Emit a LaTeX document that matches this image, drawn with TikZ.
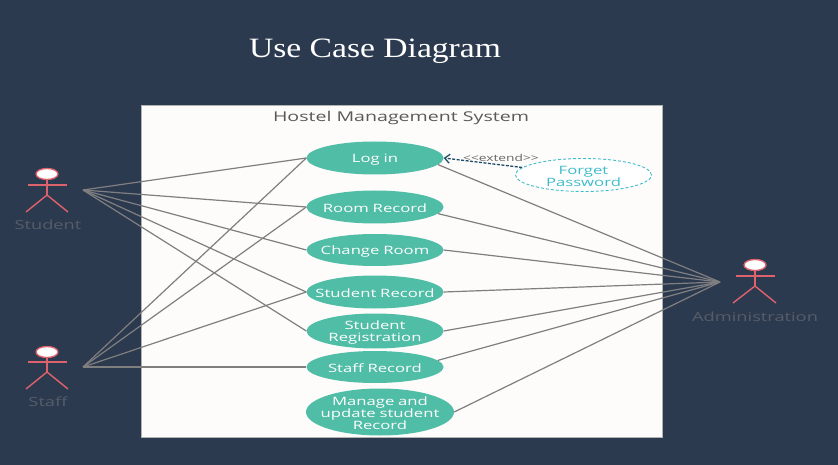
\documentclass[tikz,border=0pt]{standalone}
\usepackage{fontspec}
\setmainfont{Open Sans}[FakeStretch=1.45]
\newfontfamily\titlefont{Liberation Serif}[FakeStretch=1.2]
\usetikzlibrary{arrows.meta, shapes.geometric}
\definecolor{bgcol}{HTML}{2C3A50}
\definecolor{tealcol}{HTML}{50BDA6}
\definecolor{redcol}{HTML}{DE626B}
\definecolor{linecol}{HTML}{7F7F7F}
\definecolor{actorcol}{HTML}{565D68}
\definecolor{forgetcol}{HTML}{3FBCCB}
\definecolor{panelcol}{HTML}{FDFCFB}
\definecolor{extendcol}{HTML}{1F4E6A}
\tikzset{
  oval/.style={ellipse, text width=124pt, align=center, inner xsep=-25pt, inner ysep=-3pt, font=\fontsize{11.5}{12}\selectfont, execute at begin node={\vskip -1pt}},
  usecase/.style={oval, fill=tealcol, text=white},
  assoc/.style={draw=linecol, line width=1.2pt},
  head/.style={ellipse, draw=redcol, fill=white, line width=1.3pt, minimum width=22pt, minimum height=11pt, inner sep=0pt},
  limb/.style={draw=redcol, line width=1.4pt},
  actorlabel/.style={text=actorcol, font=\fontsize{12.6}{14}\selectfont}
}
\begin{document}
\begin{tikzpicture}[x=1pt, y=-1pt]
    \useasboundingbox[fill=bgcol] (0,0) rectangle (838,465);

    \node[text=white, font=\titlefont\fontsize{28}{32}\selectfont] (title) at (375,51) {Use Case Diagram};

    \node[draw=gray!60, fill=panelcol, minimum width=521pt, minimum height=332pt, inner sep=0pt] (system) at (401.5,271) {};
    \node[text=black!65, font=\fontsize{13.5}{15}\selectfont] (systitle) at (401,118) {Hostel Management System};

    \node[usecase, minimum width=137pt, minimum height=33pt] (login) at (375,158) {Log in};
    \node[usecase, minimum width=137pt, minimum height=33pt] (room) at (375,207) {Room Record};
    \node[usecase, minimum width=137pt, minimum height=32pt] (change) at (375,250) {Change Room};
    \node[usecase, minimum width=137pt, minimum height=33pt] (record) at (375,292) {Student Record};
    \node[usecase, minimum width=137pt, minimum height=35pt] (registration) at (375,331) {Student\\Registration};
    \node[usecase, minimum width=137pt, minimum height=32pt] (staffrec) at (375,367) {Staff Record};
    \node[usecase, minimum width=148pt, minimum height=47pt] (manage) at (380,412) {Manage and\\update student\\Record};

    \node[oval, draw=forgetcol, dash pattern=on 3pt off 2pt, line width=0.9pt, fill=white, text=forgetcol, minimum width=136pt, minimum height=33pt] (forget) at (583.5,175) {Forget\\Password};
    \node[text=black!60, font=\fontsize{9.5}{11}\selectfont] (extend) at (501,158) {<{}<extend>{}>};

    \node[head] (studenthead) at (47,174) {};
    \coordinate (studenthip) at (47,195);
    \draw[limb] (studenthead) -- (studenthip);
    \draw[limb] (28,185) -- (67,185);
    \draw[limb] (26,212) -- (studenthip) -- (68,212);
    \node[actorlabel] (studentlabel) at (48,225) {Student};

    \node[head] (staffhead) at (47,352) {};
    \coordinate (staffhip) at (47,372);
    \draw[limb] (staffhead) -- (staffhip);
    \draw[limb] (28,362) -- (67,362);
    \draw[limb] (26,389) -- (staffhip) -- (68,389);
    \node[actorlabel] (stafflabel) at (48,402) {Staff};

    \node[head] (adminhead) at (755,265) {};
    \coordinate (adminhip) at (755,286);
    \draw[limb] (adminhead) -- (adminhip);
    \draw[limb] (736,276) -- (775,276);
    \draw[limb] (733,303) -- (adminhip) -- (776,303);
    \node[actorlabel] (adminlabel) at (755,317) {Administration};

    \coordinate (student) at (83,190);
    \coordinate (staff) at (83,367);
    \coordinate (admin) at (720,282);

    \draw[assoc] (student) -- (login.west);
    \draw[assoc] (student) -- (room.west);
    \draw[assoc] (student) -- (change.west);
    \draw[assoc] (student) -- (record.west);
    \draw[assoc] (student) -- (registration.west);

    \draw[assoc] (staff) -- (login.west);
    \draw[assoc] (staff) -- (room.west);
    \draw[assoc] (staff) -- (record.west);
    \draw[assoc] (staff) -- (staffrec.west);

    \draw[assoc] (admin) -- (login.-6);
    \draw[assoc] (admin) -- (room.-6);
    \draw[assoc] (admin) -- (change.east);
    \draw[assoc] (admin) -- (record.east);
    \draw[assoc] (admin) -- (registration.east);
    \draw[assoc] (admin) -- (staffrec.6);
    \draw[assoc] (admin) -- (manage.east);

    \draw[dash pattern=on 3pt off 1.5pt, draw=extendcol, line width=1.3pt, -{Straight Barb[length=5pt,width=9pt]}] (forget.173) -- (login.east);
\end{tikzpicture}
\end{document}
